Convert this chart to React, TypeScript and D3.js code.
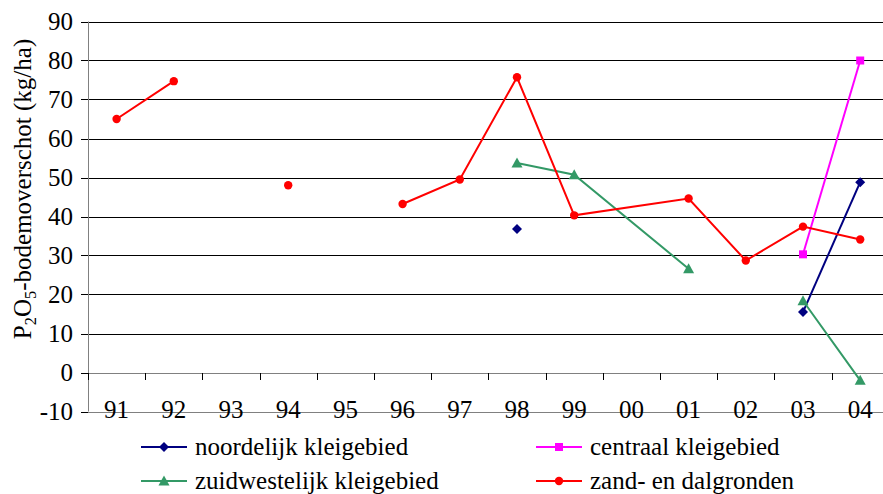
import React, { useEffect, useRef } from "react";
import * as d3 from "d3";

const categories = ["91","92","93","94","95","96","97","98","99","00","01","02","03","04"];
// categories over which lines are bridged when value missing
const bridged = ["00"];

const noordelijk = [null,null,null,null,null,null,null,36.8,null,null,null,null,15.5,48.8];
const centraal = [null,null,null,null,null,null,null,null,null,null,null,null,30.3,80];
const zuidwestelijk = [null,null,null,null,null,null,null,53.7,50.7,null,26.6,null,18.4,-2];
const zand = [65,74.7,null,48,null,43.2,49.5,75.7,40.3,null,44.6,28.7,37.4,34.1];

const yTicks = [90,80,70,60,50,40,30,20,10,0,-10];

const seriesList = [
  { name: "noordelijk kleigebied", values: noordelijk, color: "#000080", marker: "diamond" },
  { name: "centraal kleigebied", values: centraal, color: "#FF00FF", marker: "square" },
  { name: "zuidwestelijk kleigebied", values: zuidwestelijk, color: "#339966", marker: "triangle" },
  { name: "zand- en dalgronden", values: zand, color: "#FF0000", marker: "circle" },
];

const W = 883, H = 494;
const left = 88, step = 57.2, top = 21.5, bottom = 411.5;
const fs = 25;
const FF = "Liberation Serif";

function Marker({ type, x, y, color }: { type: string; x: number; y: number; color: string }) {
  if (type === "circle") return <circle cx={x} cy={y} r={4.2} fill={color} />;
  if (type === "square") return <rect x={x - 4} y={y - 4} width={8} height={8} fill={color} />;
  if (type === "diamond") return <path d={`M${x},${y - 5}L${x + 5},${y}L${x},${y + 5}L${x - 5},${y}Z`} fill={color} />;
  return <path d={`M${x},${y - 5.5}L${x + 5.5},${y + 4.5}L${x - 5.5},${y + 4.5}Z`} fill={color} />;
}

function T(props: any) {
  const { children, ...rest } = props;
  return <text fontFamily={FF} fontSize={fs} {...rest}>{children}</text>;
}

export default function App() {
  const ref = useRef<SVGSVGElement>(null);
  const x = d3.scaleBand<string>().domain(categories).range([left, left + step * categories.length]);
  const y = d3.scaleLinear().domain([-10, 90]).range([bottom, top]);
  const cx = (c: string) => (x(c) as number) + x.bandwidth() / 2;

  useEffect(() => {
    if (!ref.current) return;
    ref.current.style.setProperty("font-family", "'Liberation Serif', 'Times New Roman', serif", "important");
    d3.select(ref.current).selectAll<SVGElement, unknown>("text, tspan").each(function () {
      this.style.setProperty("font-family", "'Liberation Serif', 'Times New Roman', serif", "important");
    });
  }, []);

  return (
    <svg ref={ref} width={W} height={H} style={{ display: "block", position: "absolute", left: 0, top: 0, background: "#fff" }}>
      {yTicks.map((t) => (
        <line key={t} x1={left} x2={W} y1={Math.round(y(t)) + 0.5} y2={Math.round(y(t)) + 0.5} stroke={t === 0 || t === -10 ? "#808080" : "#000"} strokeWidth={1} />
      ))}
      <line x1={left + 0.5} x2={left + 0.5} y1={y(90)} y2={y(-10)} stroke="#808080" />
      {yTicks.map((t) => (
        <g key={"yt" + t}>
          <line x1={left - 7} x2={left} y1={Math.round(y(t)) + 0.5} y2={Math.round(y(t)) + 0.5} stroke="#000" />
          <T x={73} y={y(t) + 8.5} textAnchor="end">{t}</T>
        </g>
      ))}
      {categories.map((c) => (
        <line key={"xt" + c} x1={Math.round((x(c) as number)) + 0.5} x2={Math.round((x(c) as number)) + 0.5} y1={Math.round(y(0))} y2={Math.round(y(0)) + 7} stroke="#000" />
      ))}
      {categories.map((c) => (
        <T key={"xl" + c} x={cx(c)} y={418} textAnchor="middle">{c}</T>
      ))}
      <T transform={`translate(31,${189}) rotate(-90)`} textAnchor="middle">
        P<tspan fontSize={fs * 0.66} dy={5}>2</tspan><tspan dy={-5}>O</tspan><tspan fontSize={fs * 0.66} dy={5}>5</tspan><tspan dy={-5}>-bodemoverschot (kg/ha)</tspan>
      </T>
      {seriesList.map((s) => {
        const pts = categories
          .map((c, i) => ({ c, v: s.values[i] }))
          .filter((p) => !(p.v === null && bridged.includes(p.c)));
        const line = d3
          .line<{ c: string; v: number | null }>()
          .defined((p) => p.v !== null)
          .x((p) => cx(p.c))
          .y((p) => y(p.v as number));
        return (
          <g key={s.name}>
            <path d={line(pts) || ""} fill="none" stroke={s.color} strokeWidth={2} />
            {pts.filter((p) => p.v !== null).map((p) => (
              <Marker key={p.c} type={s.marker} x={cx(p.c)} y={y(p.v as number)} color={s.color} />
            ))}
          </g>
        );
      })}
      {seriesList.map((s, i) => {
        const col = i % 2, row = Math.floor(i / 2);
        const lx = col === 0 ? 141 : 536;
        const ly = row === 0 ? 447 : 481;
        return (
          <g key={"lg" + s.name}>
            <line x1={lx} x2={lx + 46} y1={ly} y2={ly} stroke={s.color} strokeWidth={2} />
            <Marker type={s.marker} x={lx + 23} y={ly} color={s.color} />
            <T x={lx + 54} y={ly + 8}>{s.name}</T>
          </g>
        );
      })}
    </svg>
  );
}
